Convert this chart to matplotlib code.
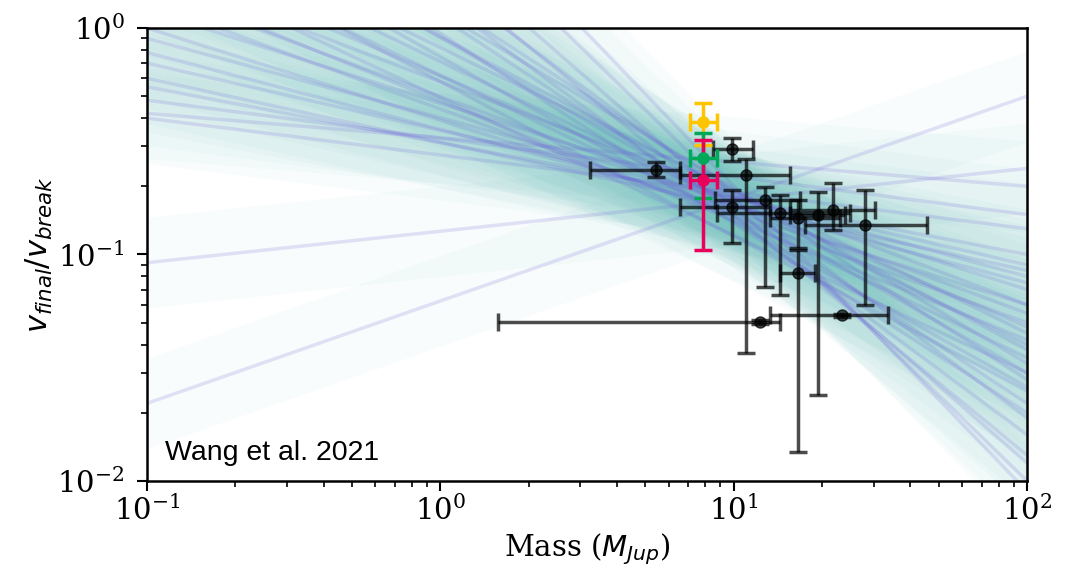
import numpy as np
import matplotlib
matplotlib.use("Agg")
from matplotlib import pyplot as plt

plt.rcParams['font.family'] = 'DejaVu Serif'
plt.rcParams['mathtext.fontset'] = 'dejavusans'

# posterior power-law draws: value at M = 0.1 and at M = 100
fit_left = [3.0, 2.2, 5.0, 8.0, 1.5, 12.0, 2.6, 4.0, 1.8, 6.5,
            20.0, 3.5, 1.2, 2.0, 9.0, 1.0, 0.9, 0.78, 0.70, 0.60,
            0.55, 0.42, 0.40, 30.0, 4.5, 2.8, 1.6, 7.0, 1.3, 15.0,
            60.0, 100.0, 0.022, 0.092, 0.48]
fit_right = [0.040, 0.048, 0.030, 0.022, 0.055, 0.016, 0.035, 0.026, 0.060, 0.020,
             0.013, 0.045, 0.070, 0.030, 0.028, 0.060, 0.080, 0.075, 0.090, 0.085,
             0.100, 0.200, 0.130, 0.012, 0.038, 0.025, 0.042, 0.033, 0.050, 0.019,
             0.010, 0.009, 0.50, 0.24, 0.15]

# black points: mass, mass err ends, v ratio, v ratio err ends
mass = [5.44, 9.88, 11.0, 9.88, 12.8, 14.4, 16.6, 16.6, 19.4, 21.8, 28.1, 12.3, 23.4]
mass_lo = [3.24, 8.51, 6.57, 6.57, 8.64, 8.8, 13.3, 14.4, 15.6, 15.6, 17.5, 1.57, 13.3]
mass_hi = [6.57, 11.6, 15.6, 13.3, 16.8, 24.9, 23.1, 19.0, 24.0, 30.3, 45.6, 14.4, 33.6]
ratio = [0.236, 0.292, 0.224, 0.162, 0.174, 0.153, 0.145, 0.0829, 0.149, 0.157, 0.135, 0.0503, 0.054]
ratio_lo = [0.220, 0.259, 0.0367, 0.112, 0.0719, 0.0663, 0.107, 0.0134, 0.024, 0.128, 0.0598, 0.0495, 0.0532]
ratio_hi = [0.256, 0.327, 0.265, 0.193, 0.199, 0.183, 0.174, 0.105, 0.189, 0.207, 0.193, 0.0511, 0.0548]

# highlighted objects
hl_mass = [7.87, 7.87, 7.87]
hl_mass_lo = [7.10, 7.10, 7.10]
hl_mass_hi = [8.77, 8.77, 8.77]
hl_ratio = [0.385, 0.267, 0.213]
hl_ratio_lo = [0.304, 0.178, 0.105]
hl_ratio_hi = [0.466, 0.344, 0.320]
hl_colors = ['#ffc400', '#00a85a', '#e8005a']

fig = plt.figure(figsize=(10.81, 5.85), dpi=100)
ax = fig.add_axes([0.136, 0.178, 0.814, 0.774])

xx = np.logspace(-1, 2, 50)
width = 0.2  # band half width, dex
for yl, yr in zip(fit_left, fit_right):
    s = (np.log10(yr) - np.log10(yl)) / 3.0
    logy = np.log10(yl) + s * (np.log10(xx) + 1)
    ax.fill_between(xx, 10**(logy - width), 10**(logy + width),
                    color='#58b8b4', alpha=0.04, lw=0)
for yl, yr in zip(fit_left, fit_right):
    ax.plot([0.1, 100], [yl, yr], color='#6a5ad8', alpha=0.17, lw=2.5)

ax.errorbar(mass, ratio,
            xerr=[np.subtract(mass, mass_lo), np.subtract(mass_hi, mass)],
            yerr=[np.subtract(ratio, ratio_lo), np.subtract(ratio_hi, ratio)],
            fmt='o', color='k', alpha=0.7, ms=8, elinewidth=2.5, capsize=6.5, capthick=2.5, zorder=5)
for i in range(len(hl_mass)):
    ax.errorbar([hl_mass[i]], [hl_ratio[i]],
                xerr=[[hl_mass[i] - hl_mass_lo[i]], [hl_mass_hi[i] - hl_mass[i]]],
                yerr=[[hl_ratio[i] - hl_ratio_lo[i]], [hl_ratio_hi[i] - hl_ratio[i]]],
                fmt='o', color=hl_colors[i], ms=8, elinewidth=2.5, capsize=6.5, capthick=2.5, zorder=6)

ax.set_xscale('log')
ax.set_yscale('log')
ax.set_xlim(0.1, 100)
ax.set_ylim(0.01, 1)
ax.tick_params(which='major', labelsize=21, length=7, width=1.5)
ax.tick_params(which='minor', length=4, width=1.2)
ax.tick_params(axis='y', which='major', pad=9)
for sp in ax.spines.values():
    sp.set_linewidth(1.8)
ax.set_xlabel('Mass ($M_{Jup}$)', fontsize=21)
ax.set_ylabel('$v_{final}/v_{break}$', fontsize=22, labelpad=2)
ax.text(0.02, 0.045, 'Wang et al. 2021', transform=ax.transAxes,
        family='Liberation Sans', fontsize=20.5)

fig.savefig('out.png', dpi=100)
